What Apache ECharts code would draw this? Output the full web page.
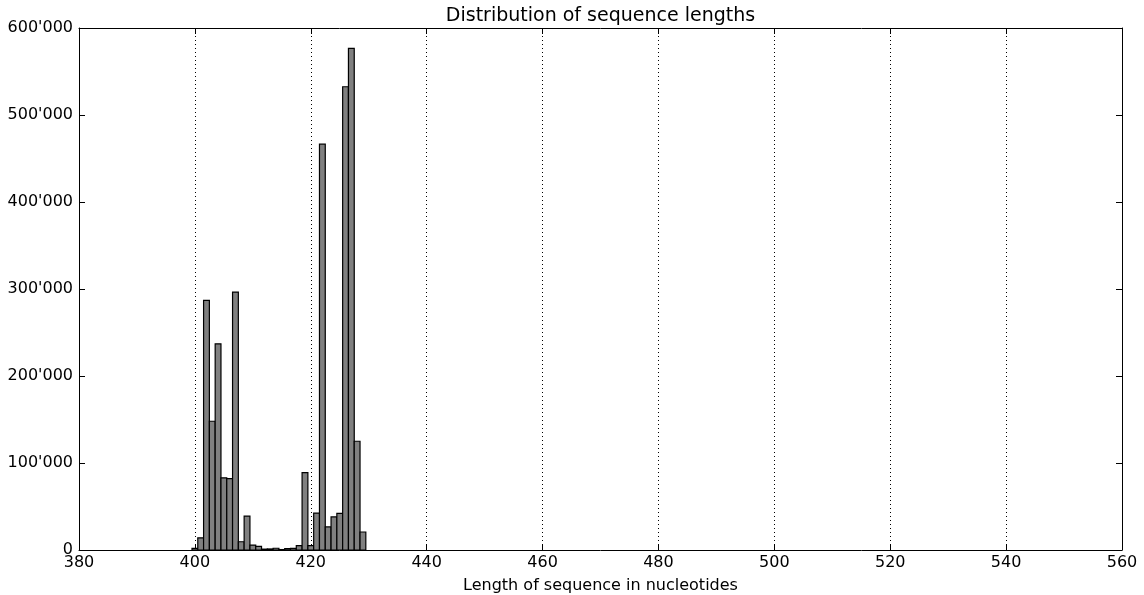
<!DOCTYPE html>
<html>
<head>
<meta charset="utf-8">
<script src="https://cdn.jsdelivr.net/npm/echarts@6/dist/echarts.min.js"></script>
<style>
  html, body { margin: 0; padding: 0; background: #fff; }
  #chart { width: 1144px; height: 595px; }
</style>
</head>
<body>
<div id="chart"></div>
<script>
// Sequence length (nucleotides) and number of reads with that length
var lengths = [400, 401, 402, 403, 404, 405, 406, 407, 408, 409,
               410, 411, 412, 413, 414, 415, 416, 417, 418, 419,
               420, 421, 422, 423, 424, 425, 426, 427, 428, 429];
var counts = [1800, 14000, 287000, 148000, 237000, 83000, 82000, 296500, 9500, 39000,
              5700, 4100, 1000, 1200, 2000, 500, 1500, 1800, 5000, 89000,
              5000, 42500, 466500, 26500, 38000, 42000, 532500, 576500, 125000, 20700];
var xTicks = [380, 400, 420, 440, 460, 480, 500, 520, 540, 560];
var yTicks = [0, 100000, 200000, 300000, 400000, 500000, 600000];

var seriesData = lengths.map(function (l, i) { return [l, counts[i]]; });

function thousands(v) {
  return String(Math.round(v)).replace(/\B(?=(\d{3})+(?!\d))/g, "'");
}

var font = 'DejaVu Sans';
var chart = echarts.init(document.getElementById('chart'), null, { renderer: 'canvas' });

var axisLine = { show: true, onZero: false, lineStyle: { color: '#000', width: 1 } };
var tickIn = { show: true, inside: true, length: 6, lineStyle: { color: '#000', width: 1 } };

var gridLeft = 79, gridRight = 22;

chart.setOption({
  animation: false,
  backgroundColor: '#fff',
  // title centred over the plotting area
  graphic: [{
    type: 'text',
    x: gridLeft + (1144 - gridLeft - gridRight) / 2, y: 7,
    style: {
      text: 'Distribution of sequence lengths',
      fontFamily: font, fontSize: 19, fill: '#000',
      textAlign: 'center', textVerticalAlign: 'top'
    }
  }],
  grid: { left: gridLeft, right: gridRight, top: 28, bottom: 45, outerBoundsMode: 'none', containLabel: false },
  xAxis: [{
    type: 'value', min: xTicks[0], max: xTicks[xTicks.length - 1], interval: 20,
    position: 'bottom',
    name: 'Length of sequence in nucleotides', nameLocation: 'middle', nameGap: 28,
    nameTextStyle: { fontFamily: font, fontSize: 16, color: '#000' },
    axisLine: axisLine, axisTick: tickIn,
    axisLabel: { fontFamily: font, fontSize: 16, color: '#000', margin: 5 },
    splitLine: { show: true, lineStyle: { color: '#000', type: [1, 3], width: 1 } }
  }, {
    type: 'value', min: xTicks[0], max: xTicks[xTicks.length - 1], interval: 20,
    position: 'top',
    axisLine: axisLine, axisTick: tickIn,
    axisLabel: { show: false }, splitLine: { show: false }
  }],
  yAxis: [{
    type: 'value', min: 0, max: yTicks[yTicks.length - 1], interval: 100000,
    position: 'left',
    axisLine: axisLine, axisTick: tickIn,
    axisLabel: { fontFamily: font, fontSize: 16, color: '#000', margin: 6, formatter: thousands },
    splitLine: { show: false }
  }, {
    type: 'value', min: 0, max: yTicks[yTicks.length - 1], interval: 100000,
    position: 'right',
    axisLine: axisLine, axisTick: tickIn,
    axisLabel: { show: false }, splitLine: { show: false }
  }],
  series: [{
    type: 'custom',
    xAxisIndex: 0, yAxisIndex: 0,
    data: seriesData,
    renderItem: function (params, api) {
      var x = api.value(0), y = api.value(1);
      var p0 = api.coord([x - 0.5, 0]);
      var p1 = api.coord([x + 0.5, y]);
      return {
        type: 'rect',
        shape: { x: p0[0], y: p1[1], width: p1[0] - p0[0], height: p0[1] - p1[1] },
        style: { fill: '#808080', stroke: '#000', lineWidth: 1.2 }
      };
    }
  }]
});
</script>
</body>
</html>
